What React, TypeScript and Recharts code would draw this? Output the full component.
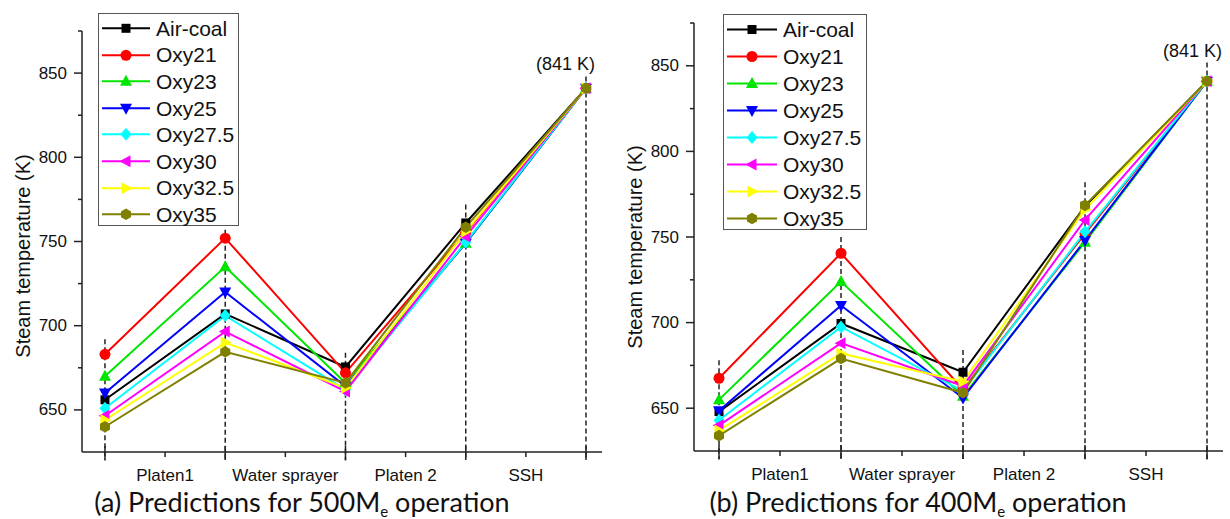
import React from "react";
import { Line, LineChart, ReferenceDot, ReferenceLine, XAxis, YAxis } from "recharts";

// x positions of the five measuring stations and the sections between them
const stations = [0, 1, 2, 3, 4];
const sections = ["Platen1", "Water sprayer", "Platen 2", "SSH"];
const sectionMid = [0.5, 1.5, 2.5, 3.5];
const yTicks = [650, 675, 700, 725, 750, 775, 800, 825, 850, 875];

const seriesNames = ["Air-coal", "Oxy21", "Oxy23", "Oxy25", "Oxy27.5", "Oxy30", "Oxy32.5", "Oxy35"];
const seriesKeys = ["air", "o21", "o23", "o25", "o275", "o30", "o325", "o35"];
const colors = ["#000000", "#ff0000", "#00e600", "#0000ff", "#00ffff", "#ff00ff", "#ffff00", "#808000"];
const shapes = ["square", "circle", "up", "down", "diamond", "left", "right", "hex"];

// (a) 500 MWe
const airA = [656, 707, 675.5, 761, 841];
const o21A = [683, 752, 672, 755.5, 841];
const o23A = [670, 735, 666, 749, 841];
const o25A = [660, 720, 664, 749, 841];
const o275A = [651, 706, 662, 749.5, 841];
const o30A = [646.5, 696.5, 661, 753, 841];
const o325A = [644, 690, 663, 756, 841];
const o35A = [640, 684.5, 666, 758.5, 841];
const dashTopA = [692, 757, 684, 772, 848];

// (b) 400 MWe
const airB = [648, 699.5, 671, 768, 841];
const o21B = [667.5, 740.5, 661, 752, 841];
const o23B = [655, 724, 657, 747, 841];
const o25B = [648.5, 710, 656, 748, 841];
const o275B = [643, 697.5, 660, 753, 841];
const o30B = [640, 688, 663, 760, 841];
const o325B = [637, 682, 665.5, 766, 841];
const o35B = [634, 679, 659, 768.5, 841];
const dashTopB = [678, 750, 684, 782, 852];

const dashBottom = 620;
const finalTemp = 841;

function buildRows(series: number[][]) {
  return stations.map((x, i) => {
    const row: any = { x };
    seriesKeys.forEach((k, j) => (row[k] = series[j][i]));
    return row;
  });
}

const rowsA = buildRows([airA, o21A, o23A, o25A, o275A, o30A, o325A, o35A]);
const rowsB = buildRows([airB, o21B, o23B, o25B, o275B, o30B, o325B, o35B]);

function Marker({ cx, cy, kind, color }: { cx: number; cy: number; kind: string; color: string }) {
  const p = (pts: number[][]) => pts.map((q) => `${cx + q[0]},${cy + q[1]}`).join(" ");
  switch (kind) {
    case "square":
      return <rect x={cx - 4.5} y={cy - 4.5} width={9} height={9} fill={color} />;
    case "circle":
      return <circle cx={cx} cy={cy} r={5.5} fill={color} />;
    case "up":
      return <polygon points={p([[0, -6.5], [-6, 4.5], [6, 4.5]])} fill={color} />;
    case "down":
      return <polygon points={p([[0, 6.5], [-6, -4.5], [6, -4.5]])} fill={color} />;
    case "diamond":
      return <polygon points={p([[0, -6.5], [5.5, 0], [0, 6.5], [-5.5, 0]])} fill={color} />;
    case "left":
      return <polygon points={p([[-6.5, 0], [4.5, -6], [4.5, 6]])} fill={color} />;
    case "right":
      return <polygon points={p([[6.5, 0], [-4.5, -6], [-4.5, 6]])} fill={color} />;
    default: {
      const pts = [0, 1, 2, 3, 4, 5].map((i) => {
        const a = (Math.PI / 3) * i + Math.PI / 6;
        return [5.8 * Math.cos(a), 5.8 * Math.sin(a)];
      });
      return <polygon points={p(pts)} fill={color} />;
    }
  }
}

const font = "'Liberation Sans', Arial, sans-serif";
const axisColor = "#222";

function YTick({ x, y, payload }: any) {
  const major = payload.value % 50 === 0;
  return (
    <g>
      <line x1={x} x2={x - (major ? 8 : 4)} y1={y} y2={y} stroke={axisColor} strokeWidth={1.5} />
      {major && (
        <text x={x - 15} y={y} textAnchor="end" dominantBaseline="central" fontSize={17} fontFamily={font} fill="#111">
          {payload.value}
        </text>
      )}
    </g>
  );
}

function XTick({ x, y, payload }: any) {
  const idx = sectionMid.indexOf(payload.value);
  if (idx < 0) {
    return <line x1={x} x2={x} y1={y - 6} y2={y + 8} stroke={axisColor} strokeWidth={1.5} />;
  }
  return (
    <g>
      <line x1={x} x2={x} y1={y} y2={y + 5} stroke={axisColor} strokeWidth={1.5} />
      <text x={x} y={y + 23} textAnchor="middle" dominantBaseline="central" fontSize={17} fontFamily={font} fill="#111">
        {sections[idx]}
      </text>
    </g>
  );
}

function LegendBox({ left, top, width, height, rowH, lineW }: { left: number; top: number; width: number; height: number; rowH: number; lineW: number }) {
  return (
    <div
      style={{
        position: "absolute",
        left,
        top,
        width,
        height,
        boxSizing: "border-box",
        border: "1.5px solid #555",
        background: "#fff",
        padding: "1px 0 0 3px",
        fontFamily: font,
        fontSize: 21,
        color: "#111",
      }}
    >
      {seriesNames.map((n, i) => (
        <div key={n} style={{ display: "flex", alignItems: "center", height: rowH }}>
          <svg width={lineW + 6} height={rowH}>
            <line x1={0} x2={lineW} y1={rowH / 2} y2={rowH / 2} stroke={colors[i]} strokeWidth={2} />
            <Marker cx={lineW / 2} cy={rowH / 2} kind={shapes[i]} color={colors[i]} />
          </svg>
          <span style={{ lineHeight: 1 }}>{n}</span>
        </div>
      ))}
    </div>
  );
}

type PanelProps = {
  left: number;
  rows: any[];
  dashTop: number[];
  margin: { top: number; right: number; bottom: number; left: number };
  xDomain: [number, number];
  yLabelPos: [number, number];
  legend: { left: number; top: number; width: number; height: number; rowH: number; lineW: number };
  peakDx: number;
  peakDy: number;
  caption: [string, string, string];
  captionX: number;
};

function Panel(pp: PanelProps) {
  return (
    <div style={{ position: "absolute", left: pp.left, top: 0, width: 615, height: 519 }}>
      <LineChart width={615} height={519} data={pp.rows} margin={pp.margin}>
        <XAxis
          type="number"
          dataKey="x"
          domain={pp.xDomain}
          allowDataOverflow
          ticks={[0, 0.5, 1, 1.5, 2, 2.5, 3, 3.5, 4]}
          interval={0}
          height={40}
          tickSize={0}
          tickMargin={0}
          tickLine={false}
          tick={<XTick />}
          axisLine={{ stroke: axisColor, strokeWidth: 1.5 }}
        />
        <YAxis
          type="number"
          domain={[625, 875]}
          allowDataOverflow
          ticks={yTicks}
          interval={0}
          width={60}
          tickSize={0}
          tickMargin={0}
          tickLine={false}
          tick={<YTick />}
          axisLine={{ stroke: axisColor, strokeWidth: 1.5 }}
          label={{
            content: () => (
              <text
                transform={`translate(${pp.yLabelPos[0]},${pp.yLabelPos[1]}) rotate(-90)`}
                textAnchor="middle"
                dominantBaseline="central"
                fontSize={20}
                fontFamily={font}
                fill="#111"
              >
                Steam temperature (K)
              </text>
            ),
          }}
        />
        {stations.map((s, i) => (
          <ReferenceLine
            key={`d${s}`}
            segment={[
              { x: s, y: pp.dashTop[i] },
              { x: s, y: dashBottom },
            ]}
            ifOverflow="visible"
            stroke="#222"
            strokeWidth={1.5}
            strokeDasharray="5 3"
          />
        ))}
        {seriesKeys.map((k, i) => (
          <Line
            key={k}
            dataKey={k}
            name={seriesNames[i]}
            stroke={colors[i]}
            strokeWidth={2}
            isAnimationActive={false}
            dot={(d: any) => <Marker key={`${k}-${d.index}`} cx={d.cx} cy={d.cy} kind={shapes[i]} color={colors[i]} />}
            activeDot={false}
          />
        ))}
        <ReferenceDot
          x={stations[4]}
          y={finalTemp}
          r={0}
          ifOverflow="visible"
          label={{
            content: (lp: any) => {
              const vb = lp.viewBox || {};
              const cx = (vb.x ?? 0) + (vb.width ?? 0) / 2;
              const cy = (vb.y ?? 0) + (vb.height ?? 0) / 2;
              return (
                <text x={cx + pp.peakDx} y={cy - pp.peakDy} textAnchor="end" dominantBaseline="central" fontSize={18} fontFamily={font} fill="#111">
                  {`(${finalTemp} K)`}
                </text>
              );
            },
          }}
        />
      </LineChart>
      <LegendBox {...pp.legend} />
      <div
        style={{
          position: "absolute",
          left: pp.captionX - 260,
          width: 520,
          top: 486,
          textAlign: "center",
          fontFamily: "Lato, 'Open Sans', sans-serif",
          fontSize: 27,
          lineHeight: "32px",
          color: "#111",
        }}
      >
        {pp.caption[0]}
        <sub style={{ fontSize: 15, verticalAlign: "-5px" }}>{pp.caption[1]}</sub>
        {pp.caption[2]}
      </div>
    </div>
  );
}

export default function App() {
  return (
    <div style={{ position: "absolute", left: 0, top: 0, width: 1230, height: 519, background: "#fff", overflow: "hidden" }}>
      <Panel
        left={0}
        rows={rowsA}
        dashTop={dashTopA}
        margin={{ top: 31, right: 13, bottom: 27, left: 22 }}
        xDomain={[-0.191, 4.133]}
        yLabelPos={[23, 256]}
        legend={{ left: 98, top: 13, width: 141, height: 213, rowH: 26.6, lineW: 48 }}
        peakDx={9}
        peakDy={24}
        caption={["(a) Predictions for 500M", "e", " operation"]}
        captionX={302}
      />
      <Panel
        left={615}
        rows={rowsB}
        dashTop={dashTopB}
        margin={{ top: 23, right: 7, bottom: 28, left: 19 }}
        xDomain={[-0.205, 4.131]}
        yLabelPos={[20, 247]}
        legend={{ left: 108, top: 14, width: 144, height: 216, rowH: 27, lineW: 50 }}
        peakDx={15}
        peakDy={30}
        caption={["(b) Predictions for 400M", "e", " operation"]}
        captionX={303}
      />
    </div>
  );
}
